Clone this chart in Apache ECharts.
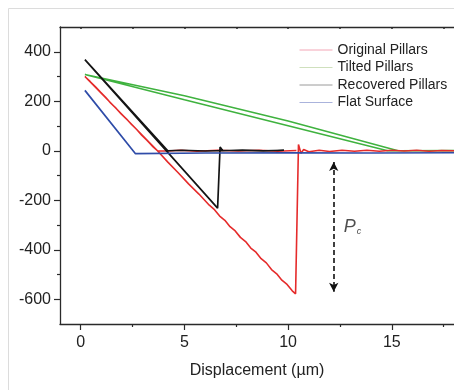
<!DOCTYPE html>
<html>
<head>
<meta charset="utf-8">
<script src="https://cdn.jsdelivr.net/npm/echarts@6/dist/echarts.min.js"></script>
<style>
html, body { margin: 0; padding: 0; background: #fff; }
#chart { width: 454px; height: 390px; }
</style>
</head>
<body>
<div id="chart"></div>
<script>
// tick positions
var xTicks = [0, 5, 10, 15];
var xMinor = [2.5, 7.5, 12.5, 17.5];
var xTop = [0, 2.5, 5, 7.5, 10, 12.5, 15, 17.5];
var yTicks = [-600, -400, -200, 0, 200, 400];
var yMinor = [-500, -300, -100, 100, 300];

// [displacement um, force]
var originalPts = [
  [10.4, 1], [9.5, -2], [8.6, 2], [7.6, -1], [6.6, 2], [5.6, -2], [4.8, 2], [4.2, -1], [3.7, 0],
  [0.2, 300], [0.45, 280], [0.7, 259], [0.95, 237], [1.2, 216], [1.45, 192], [1.7, 172],
  [1.95, 149], [2.2, 129], [2.45, 106], [2.7, 86], [2.95, 62], [3.2, 42], [3.45, 19],
  [3.7, 0], [4.2, -46], [4.7, -89], [5.2, -134], [5.7, -175], [6.2, -220], [6.45, -238],
  [6.7, -264], [6.95, -281], [7.2, -307], [7.45, -324], [7.7, -350], [7.95, -367],
  [8.2, -393], [8.45, -410], [8.7, -436], [8.95, -453], [9.2, -480], [9.45, -497],
  [9.7, -523], [9.95, -540], [10.2, -566], [10.36, -578], [10.5, 25], [10.62, -10],
  [10.75, 5], [11, -4], [11.5, 2], [12, -3], [12.6, 2], [13.2, -2], [13.8, 2],
  [14.4, -2], [15, 2], [15.6, -1], [16.2, 2], [16.8, -2], [17.4, 1], [18, 0]
];
var tiltedPts = [
  [18, 1], [15.3, 0], [10, 120], [5, 222], [0.2, 308],
  [0.25, 302], [5, 206], [10, 101], [14.8, 0], [18, -1]
];
var recoveredPts = [
  [9.8, 2], [8.8, -1], [7.6, 2], [6, -1], [4.9, 2], [4.2, 0],
  [0.2, 368], [6.6, -232], [6.72, 15], [6.85, 0], [7.8, 3], [8.8, 0], [9.8, 2]
];
var flatPts = [
  [0.2, 244], [2.64, -12], [6, -9], [10, -8], [14, -9], [18, -8]
];
var pcArrow = [[12.2, -45], [12.2, -570]];
var pcLabelAt = [13.1, -307];

var font = '"Liberation Sans", Arial, sans-serif';
var axisColor = '#2a2a2a';

var chart = echarts.init(document.getElementById('chart'));

function lineSeries(name, pts, color, width) {
  return {
    name: name,
    type: 'line',
    data: pts,
    symbol: 'none',
    smooth: false,
    animation: false,
    lineStyle: { color: color, width: width },
    itemStyle: { color: color }
  };
}

function legendItem(name, color) {
  return { name: name, lineStyle: { color: color, width: 1 }, itemStyle: { opacity: 0 } };
}

var option = {
  animation: false,
  backgroundColor: '#fff',
  textStyle: { fontFamily: font },
  grid: { left: 60, top: 27, right: -6, bottom: 66 },
  graphic: [{
    type: 'rect',
    shape: { x: 8.5, y: 8.5, width: 470, height: 410 },
    style: { fill: 'none', stroke: '#dcdcdc', lineWidth: 1 },
    z: -1
  }],
  legend: {
    orient: 'vertical',
    left: 294,
    top: 38,
    itemWidth: 33,
    itemHeight: 14,
    itemGap: 3.5,
    textStyle: { fontFamily: font, fontSize: 14, color: '#222' },
    data: [
      legendItem('Original Pillars', '#f3a6b6'),
      legendItem('Tilted Pillars', '#cfe0bd'),
      legendItem('Recovered Pillars', '#9a9a9a'),
      legendItem('Flat Surface', '#aab3dc')
    ]
  },
  xAxis: [{
    type: 'value', position: 'bottom', min: -1, max: 18,
    name: 'Displacement (\u00b5m)', nameLocation: 'middle', nameGap: 39,
    nameTextStyle: { fontFamily: font, fontSize: 16, color: '#222' },
    axisLine: { onZero: false, lineStyle: { color: axisColor, width: 1.3 } },
    axisTick: { customValues: xTicks, length: 6, lineStyle: { color: axisColor, width: 1.2 } },
    axisLabel: { customValues: xTicks, fontFamily: font, fontSize: 16, color: '#222', margin: 11 },
    splitLine: { show: false }
  }, {
    type: 'value', position: 'bottom', min: -1, max: 18,
    axisLine: { show: false, onZero: false },
    axisTick: { customValues: xMinor, length: 3, lineStyle: { color: axisColor, width: 1.2 } },
    axisLabel: { show: false },
    splitLine: { show: false }
  }, {
    type: 'value', position: 'top', min: -1, max: 18,
    axisLine: { onZero: false, lineStyle: { color: axisColor, width: 1.3 } },
    axisTick: { customValues: xTop, length: 2, inside: true, lineStyle: { color: axisColor, width: 1.5 } },
    axisLabel: { show: false },
    splitLine: { show: false }
  }],
  yAxis: [{
    type: 'value', position: 'left', min: -700, max: 500,
    axisLine: { onZero: false, lineStyle: { color: axisColor, width: 1.3 } },
    axisTick: { customValues: yTicks, length: 6, lineStyle: { color: axisColor, width: 1.2 } },
    axisLabel: { customValues: yTicks, fontFamily: font, fontSize: 16, color: '#222', margin: 9 },
    splitLine: { show: false }
  }, {
    type: 'value', position: 'left', min: -700, max: 500,
    axisLine: { show: false, onZero: false },
    axisTick: { customValues: yMinor, length: 3, lineStyle: { color: axisColor, width: 1.2 } },
    axisLabel: { show: false },
    splitLine: { show: false }
  }],
  series: [
    lineSeries('Tilted Pillars', tiltedPts, '#3fb23f', 1.6),
    lineSeries('Original Pillars', originalPts, '#e52b2b', 1.6),
    lineSeries('Recovered Pillars', recoveredPts, '#141414', 1.7),
    lineSeries('Flat Surface', flatPts, '#2f4ca8', 1.7),
    {
      name: 'Pc',
      type: 'scatter',
      data: [pcLabelAt],
      symbolSize: 0,
      silent: true,
      label: {
        show: true,
        position: 'inside',
        formatter: '{p|P}{c|c}',
        rich: {
          p: { fontFamily: font, fontStyle: 'italic', fontSize: 18, color: '#222' },
          c: { fontFamily: font, fontStyle: 'italic', fontSize: 9, color: '#222', padding: [10, 0, 0, 1] }
        }
      },
      markLine: {
        silent: true,
        symbol: ['arrow', 'arrow'],
        symbolSize: [7, 9],
        label: { show: false },
        lineStyle: { color: '#111', width: 1.6, type: [5, 3] },
        data: [[{ coord: pcArrow[0] }, { coord: pcArrow[1] }]]
      }
    }
  ]
};

chart.setOption(option);
</script>
</body>
</html>
